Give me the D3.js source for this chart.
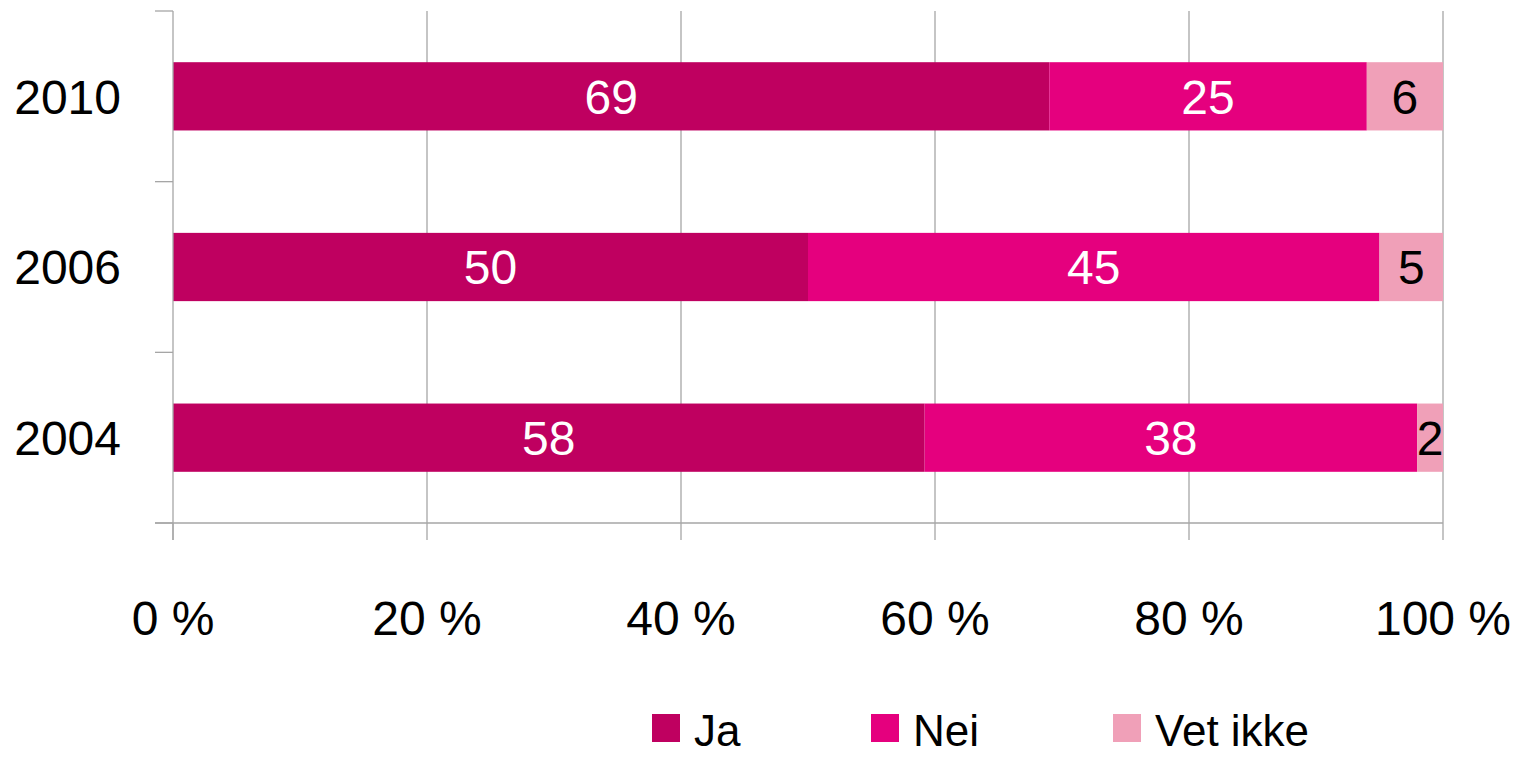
<!DOCTYPE html>
<html>
<head>
<meta charset="utf-8">
<script src="https://cdn.jsdelivr.net/npm/d3@7"></script>
<style>
  body { margin: 0; background: #fff; }
  text { font-family: "Liberation Sans", Arial, sans-serif; }
</style>
</head>
<body>
<script>
// Chart data
var years = ["2010", "2006", "2004"];
var seriesNames = ["Ja", "Nei", "Vet ikke"];
var jaValues = [69, 50, 58];
var neiValues = [25, 45, 38];
var vetIkkeValues = [6, 5, 2];
var tickValues = [0, 20, 40, 60, 80, 100];

var colors = ["#bf0060", "#e5007e", "#f0a0b8"];
var labelColors = ["#fff", "#fff", "#000"];

var svgWidth = 1517;
var svgHeight = 757;

var margin = { top: 11, right: 74, bottom: 234, left: 173 };
var chartWidth = svgWidth - margin.left - margin.right;
var chartHeight = svgHeight - margin.top - margin.bottom;

var svg = d3.select("body")
  .append("svg")
  .attr("width", svgWidth)
  .attr("height", svgHeight);

var chartGroup = svg.append("g")
  .attr("transform", `translate(${margin.left}, ${margin.top})`);

// build rows, normalised to 100 %
var rows = years.map(function(year, i) {
  var row = { year: year, "Ja": jaValues[i], "Nei": neiValues[i], "Vet ikke": vetIkkeValues[i] };
  row.total = jaValues[i] + neiValues[i] + vetIkkeValues[i];
  return row;
});

var xScale = d3.scaleLinear().domain([0, 100]).range([0, chartWidth]);
var yScale = d3.scaleBand().domain(years).range([0, chartHeight]).paddingInner(0.6).paddingOuter(0.3);
var step = yScale.step();

var stack = d3.stack().keys(seriesNames)
  .value(function(d, key) { return d[key] / d.total * 100; });
var stacked = stack(rows);

// gridlines
chartGroup.selectAll(".grid")
  .data(tickValues.slice(1))
  .enter().append("line")
  .attr("x1", d => xScale(d)).attr("x2", d => xScale(d))
  .attr("y1", 0).attr("y2", chartHeight)
  .attr("stroke", "#a6a6a6").attr("stroke-width", 1.3);

// bars
var layers = chartGroup.selectAll(".layer")
  .data(stacked)
  .enter().append("g")
  .attr("fill", (d, i) => colors[i]);

layers.selectAll("rect")
  .data(d => d)
  .enter().append("rect")
  .attr("x", d => xScale(d[0]))
  .attr("width", d => xScale(d[1]) - xScale(d[0]))
  .attr("y", d => yScale(d.data.year))
  .attr("height", yScale.bandwidth());

// value labels
stacked.forEach(function(layer, i) {
  chartGroup.selectAll(".lbl" + i)
    .data(layer)
    .enter().append("text")
    .attr("x", d => (xScale(d[0]) + xScale(d[1])) / 2)
    .attr("y", d => yScale(d.data.year) + yScale.bandwidth() / 2)
    .attr("dy", "0.36em")
    .attr("text-anchor", "middle")
    .attr("fill", labelColors[i])
    .style("font-size", "48px")
    .text(d => d.data[layer.key]);
});

// y axis
var yAxis = chartGroup.append("g");
yAxis.append("line")
  .attr("x1", 0).attr("x2", 0).attr("y1", 0).attr("y2", chartHeight + 17)
  .attr("stroke", "#a6a6a6").attr("stroke-width", 1.3);
yAxis.selectAll(".ytick")
  .data(d3.range(years.length + 1))
  .enter().append("line")
  .attr("x1", -18).attr("x2", 0)
  .attr("y1", d => d * step).attr("y2", d => d * step)
  .attr("stroke", "#a6a6a6").attr("stroke-width", 1.3);
yAxis.selectAll(".ylabel")
  .data(years)
  .enter().append("text")
  .attr("x", -52)
  .attr("y", d => yScale(d) + yScale.bandwidth() / 2)
  .attr("dy", "0.36em")
  .attr("text-anchor", "end")
  .style("font-size", "48px")
  .text(d => d);

// x axis
var xAxis = chartGroup.append("g").attr("transform", `translate(0, ${chartHeight})`);
xAxis.append("line")
  .attr("x1", -18).attr("x2", chartWidth)
  .attr("stroke", "#a6a6a6").attr("stroke-width", 1.3);
xAxis.selectAll(".xtick")
  .data(tickValues)
  .enter().append("line")
  .attr("x1", d => xScale(d)).attr("x2", d => xScale(d))
  .attr("y1", 0).attr("y2", 17)
  .attr("stroke", "#a6a6a6").attr("stroke-width", 1.3);
xAxis.selectAll(".xlabel")
  .data(tickValues)
  .enter().append("text")
  .attr("x", d => xScale(d))
  .attr("y", 112)
  .attr("text-anchor", "middle")
  .style("font-size", "48px")
  .text(d => d + " %");

// legend
var legendX = [652, 871, 1113];
var legend = svg.selectAll(".legend")
  .data(seriesNames)
  .enter().append("g")
  .attr("transform", (d, i) => `translate(${legendX[i]}, 714)`);
legend.append("rect")
  .attr("width", 28).attr("height", 28)
  .attr("fill", (d, i) => colors[i]);
legend.append("text")
  .attr("x", 42).attr("y", 32)
  .style("font-size", "44px")
  .text(d => d);
</script>
</body>
</html>
